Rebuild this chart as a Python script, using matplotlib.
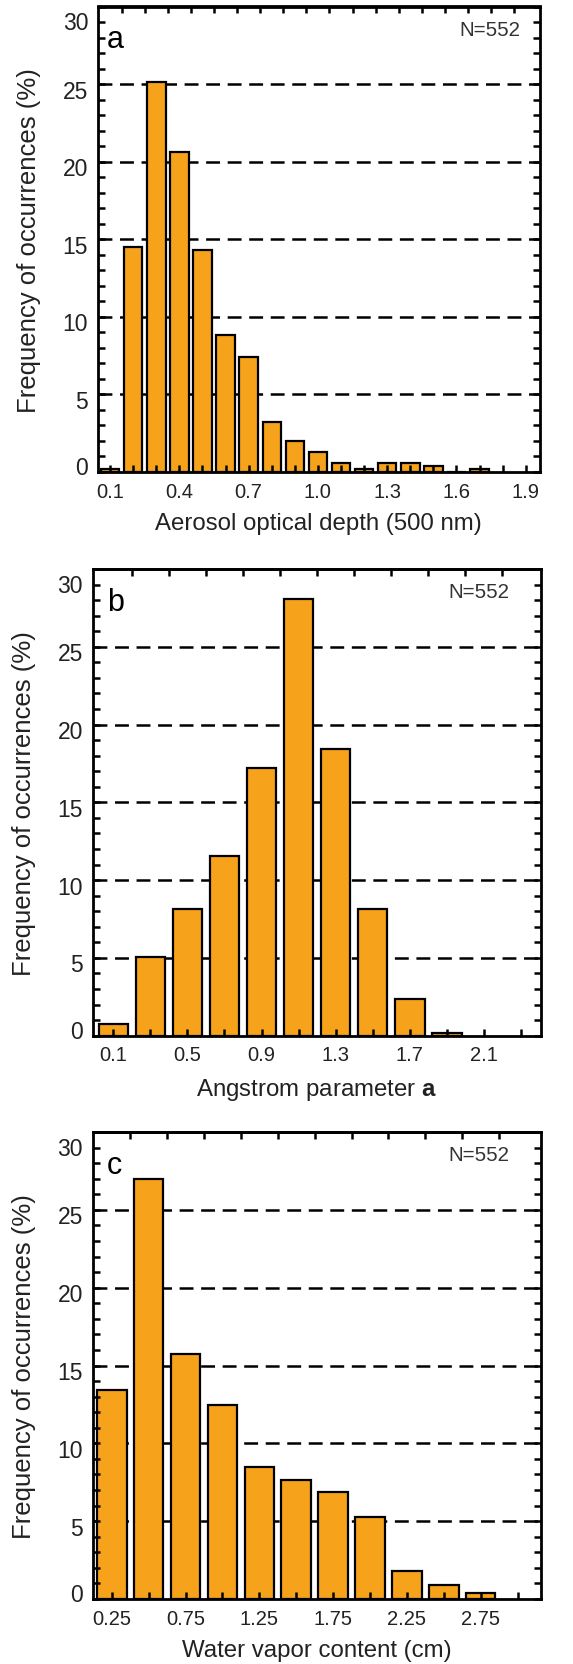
import numpy as np
import matplotlib
matplotlib.use("Agg")
import matplotlib.pyplot as plt
from matplotlib.transforms import ScaledTranslation

plt.rcParams['font.family'] = ['Liberation Sans', 'DejaVu Sans']
plt.rcParams['mathtext.fontset'] = 'custom'
plt.rcParams['mathtext.rm'] = 'Liberation Sans'
plt.rcParams['mathtext.bf'] = 'Liberation Sans:bold'
plt.rcParams['lines.scale_dashes'] = False

N_OBS = 552

# (a) aerosol optical depth at 500 nm, 0.1 bins
aod_bins = [0.1, 0.2, 0.3, 0.4, 0.5, 0.6, 0.7, 0.8, 0.9, 1.0, 1.1, 1.2, 1.3, 1.4, 1.5, 1.6, 1.7]
aod_freq = [0.18, 14.48, 25.15, 20.62, 14.31, 8.84, 7.41, 3.21, 1.97, 1.25, 0.54, 0.18, 0.54, 0.54, 0.36, 0.0, 0.18]
aod_ticklabels = ["0.1", "0.4", "0.7", "1.0", "1.3", "1.6", "1.9"]

# (b) Angstrom parameter, 0.2 bins
ang_bins = [0.1, 0.3, 0.5, 0.7, 0.9, 1.1, 1.3, 1.5, 1.7, 1.9]
ang_freq = [0.74, 5.07, 8.14, 11.58, 17.22, 28.10, 18.45, 8.14, 2.36, 0.18]
ang_ticklabels = ["0.1", "0.5", "0.9", "1.3", "1.7", "2.1"]

# (c) water vapor content, 0.25 cm bins
wv_bins = [0.25, 0.5, 0.75, 1.0, 1.25, 1.5, 1.75, 2.0, 2.25, 2.5, 2.75]
wv_freq = [13.40, 26.95, 15.75, 12.48, 8.51, 7.63, 6.86, 5.26, 1.80, 0.90, 0.36]
wv_ticklabels = ["0.25", "0.75", "1.25", "1.75", "2.25", "2.75"]

BAR_COLOR = "#F7A21B"
TEXT_COLOR = "#222222"

fig = plt.figure(figsize=(5.73, 16.65), dpi=100)
W, H = 573.0, 1665.0


def px_axes(left, top, right, bottom):
    return fig.add_axes([left / W, 1 - bottom / H, (right - left) / W, (bottom - top) / H])


def px(dx, dy):
    # offset in screen pixels (figure is saved at 100 dpi)
    return ScaledTranslation(dx / 100.0, dy / 100.0, fig.dpi_scale_trans)


def draw_panel(ax, centers, freq, step, xlim, ticklabels, letter, letter_x, xlabel, ndx):
    for y in [5, 10, 15, 20, 25]:
        ax.axhline(y, color="black", lw=1.8, dashes=(10, 5.5), zorder=0.5)
    ax.bar(centers, freq, width=0.8 * step, color=BAR_COLOR, edgecolor="black",
           linewidth=1.6, zorder=1)
    ax.set_xlim(*xlim)
    ax.set_ylim(0, 30)

    # bottom ticks at bin centres, only some of them labelled
    bottom = np.arange(centers[0], xlim[1], step)
    label_vals = [float(t) for t in ticklabels]
    labels = []
    for b in bottom:
        hit = [t for t, v in zip(ticklabels, label_vals) if abs(v - b) < 1e-6]
        labels.append(hit[0] if hit else "")
    ax.set_xticks(bottom)
    ax.set_xticklabels(labels)
    ax.tick_params(axis="x", direction="in", length=5, width=1.8, pad=7,
                   labelsize=14.5, labelcolor=TEXT_COLOR, top=False)

    # top ticks at bin edges
    top = ax.secondary_xaxis("top")
    top.set_xticks(np.arange(centers[0] + step / 2, xlim[1] - 0.3 * step, step))
    top.tick_params(direction="in", length=5, width=1.8, labeltop=False)
    top.spines["top"].set_linewidth(2.0)

    ax.set_yticks([0, 5, 10, 15, 20, 25, 30])
    ax.set_yticks(np.arange(0, 31, 1), minor=True)
    ax.tick_params(axis="y", which="both", direction="in", length=5, width=1.8,
                   right=True, pad=7, labelsize=16.5, labelcolor=TEXT_COLOR)

    for lab in ax.get_yticklabels():
        txt = lab.get_text()
        dy = -4.5
        if txt == "30":
            dy = -14
        elif txt == "0":
            dy = 7
        lab.set_transform(lab.get_transform() + px(0, dy))

    for s in ax.spines.values():
        s.set_linewidth(2.0)

    ax.set_ylabel("Frequency of occurrences (%)", fontsize=18.5, color=TEXT_COLOR)
    ax.yaxis.set_label_coords(0, 0.5, transform=ax.transAxes + px(-57, 0))
    ax.set_xlabel(xlabel, fontsize=17.3, color=TEXT_COLOR)
    ax.xaxis.set_label_coords(0.5, 0, transform=ax.transAxes + px(0, -40))

    ax.text(letter_x, 0.913, letter, transform=ax.transAxes, fontsize=22, color="black",
            ha="left", va="baseline")
    ax.text(ndx, 0.939, "N=%d" % N_OBS, transform=ax.transAxes, fontsize=14.8,
            color="#333333", ha="right", va="baseline")


ax_a = px_axes(97.9, 7.5, 539.8, 472.8)
draw_panel(ax_a, aod_bins, aod_freq, 0.1, (0.047, 1.961), aod_ticklabels, "a", 0.02,
           "Aerosol optical depth (500 nm)", 0.956)

ax_b = px_axes(92.6, 570.0, 541.2, 1036.7)
draw_panel(ax_b, ang_bins, ang_freq, 0.2, (-0.012, 2.41), ang_ticklabels, "b", 0.032,
           r"Angstrom parameter $\mathbf{a}$", 0.930)

ax_c = px_axes(92.6, 1133.0, 541.2, 1600.0)
draw_panel(ax_c, wv_bins, wv_freq, 0.25, (0.12, 3.16), wv_ticklabels, "c", 0.032,
           "Water vapor content (cm)", 0.930)

fig.savefig("out.png", dpi=100)
